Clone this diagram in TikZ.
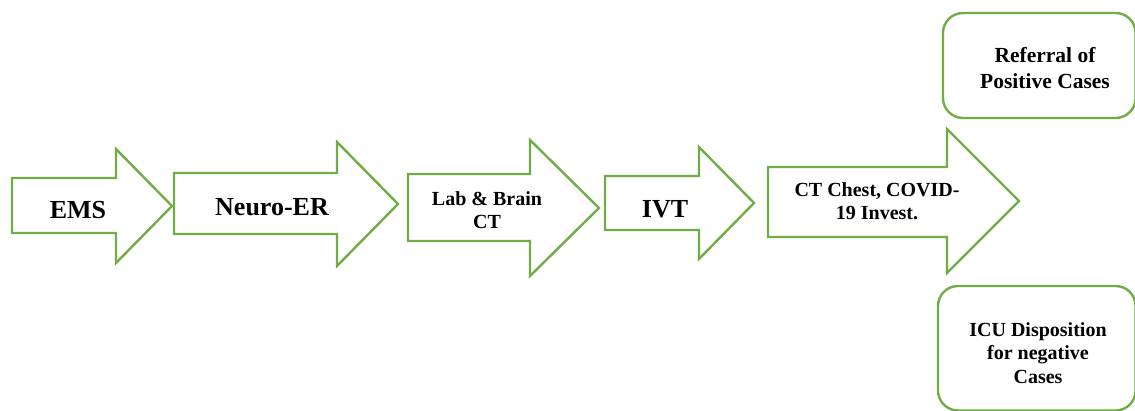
\documentclass[tikz,border=0pt]{standalone}
\usepackage{fontspec}
\setmainfont{Liberation Serif}
\definecolor{flowgreen}{RGB}{112,173,71}
\tikzset{
  flowarrow/.style={draw=flowgreen, line width=2.4pt, fill=white, line join=miter},
  outcome/.style={draw=flowgreen, line width=2.4pt, fill=white, rounded corners=20pt},
  biglabel/.style={font=\fontsize{26}{30}\selectfont\bfseries, align=center, inner sep=0pt},
  smalllabel/.style={font=\fontsize{20}{23.5}\selectfont\bfseries, align=center, inner sep=0pt},
}
\begin{document}
\begin{tikzpicture}[x=1pt, y=-1pt]
\useasboundingbox (0,0) rectangle (1135,411);

% process arrows
\draw[flowarrow] (12,178) -- (116,178) -- (116,149) -- (172,206) -- (116,263) -- (116,233) -- (12,233) -- cycle;
\draw[flowarrow] (174,173) -- (337,173) -- (337,142) -- (398,204) -- (337,266) -- (337,234) -- (174,234) -- cycle;
\draw[flowarrow] (408,174) -- (530,174) -- (530,140) -- (599,208) -- (530,276) -- (530,241) -- (408,241) -- cycle;
\draw[flowarrow] (605,176) -- (699,176) -- (699,147) -- (754,203) -- (699,259) -- (699,230) -- (605,230) -- cycle;
\draw[flowarrow] (768,167) -- (947,167) -- (947,129) -- (1019,201) -- (947,273) -- (947,237) -- (768,237) -- cycle;

% outcome boxes
\draw[outcome] (943,13) rectangle (1135.6,118);
\draw[outcome] (938,286) rectangle (1135.6,410.5);

% labels
\node[biglabel] (ems) at (78,210) {EMS};
\node[biglabel] (neuro) at (272,207) {Neuro-ER};
\node[smalllabel] (lab) at (487,210) {Lab \& Brain\\CT};
\node[biglabel] (ivt) at (665,209) {IVT};
\node[smalllabel] (chest) at (877,201) {CT Chest, COVID-\\19 Invest.};
\node[font=\fontsize{21.5}{26}\selectfont\bfseries, align=center, inner sep=0pt] (referral) at (1045,68) {Referral of\\Positive Cases};
\node[smalllabel] (icu) at (1038,353) {ICU Disposition\\for negative\\Cases};
\end{tikzpicture}
\end{document}
